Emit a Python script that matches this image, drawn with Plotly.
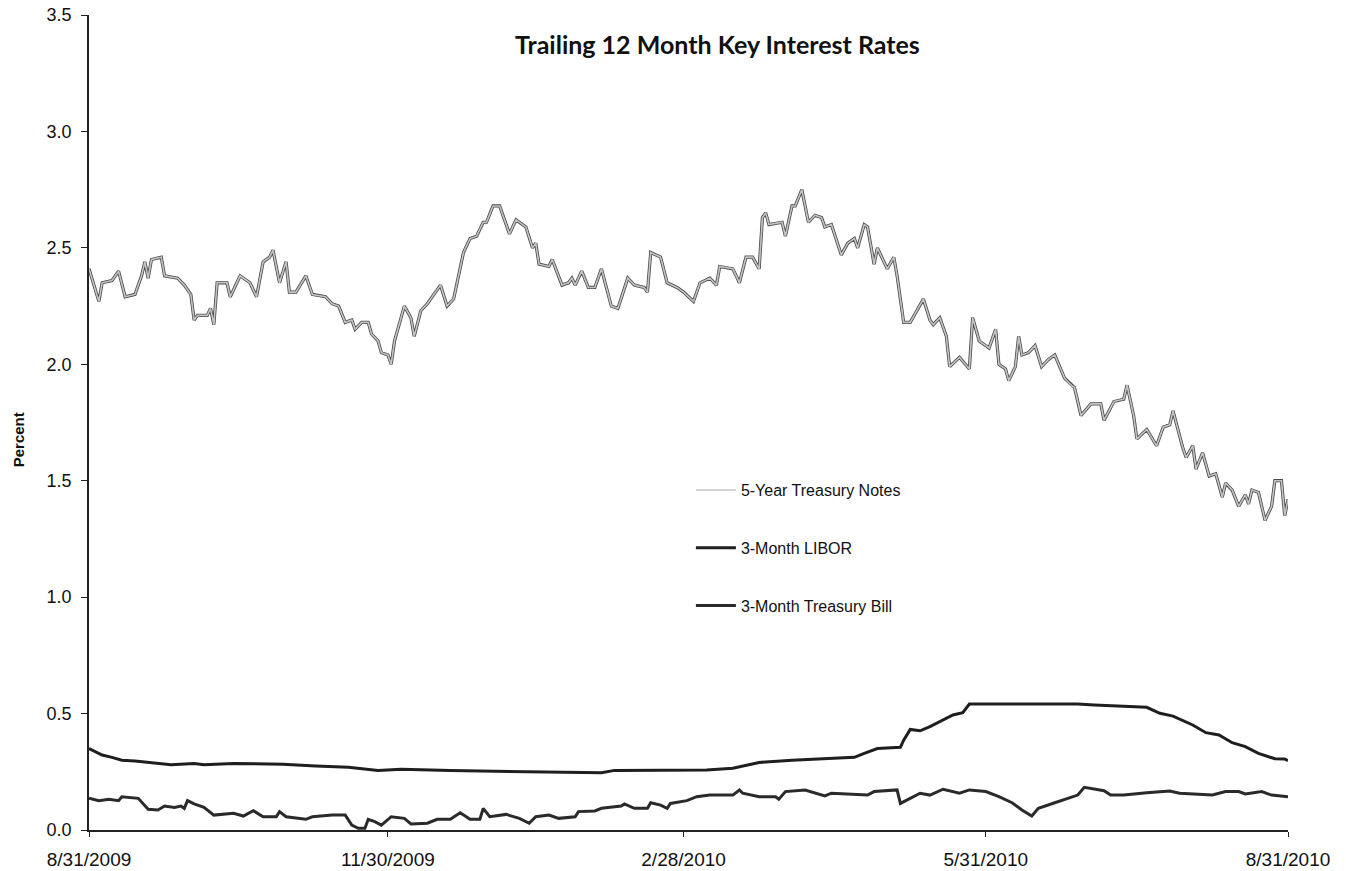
import plotly.graph_objects as go

# ---------------- data ----------------
t5_dates = [
    "2009-08-31", "2009-09-03", "2009-09-04", "2009-09-07", "2009-09-09", "2009-09-11", "2009-09-14",
    "2009-09-16", "2009-09-17", "2009-09-18", "2009-09-19", "2009-09-22", "2009-09-23", "2009-09-27",
    "2009-09-29", "2009-10-01", "2009-10-02", "2009-10-03", "2009-10-06", "2009-10-07", "2009-10-08",
    "2009-10-09", "2009-10-12", "2009-10-13", "2009-10-16", "2009-10-19", "2009-10-21", "2009-10-23",
    "2009-10-25", "2009-10-26", "2009-10-28", "2009-10-30", "2009-10-31", "2009-11-02", "2009-11-05",
    "2009-11-07", "2009-11-11", "2009-11-13", "2009-11-15", "2009-11-17", "2009-11-19", "2009-11-20",
    "2009-11-22", "2009-11-24", "2009-11-25", "2009-11-27", "2009-11-28", "2009-11-30", "2009-12-01",
    "2009-12-02", "2009-12-05", "2009-12-07", "2009-12-08", "2009-12-10", "2009-12-12", "2009-12-16",
    "2009-12-18", "2009-12-20", "2009-12-23", "2009-12-25", "2009-12-27", "2009-12-29", "2009-12-30",
    "2010-01-01", "2010-01-03", "2010-01-06", "2010-01-08", "2010-01-11", "2010-01-13", "2010-01-14",
    "2010-01-15", "2010-01-18", "2010-01-19", "2010-01-22", "2010-01-24", "2010-01-25", "2010-01-26",
    "2010-01-28", "2010-01-30", "2010-02-01", "2010-02-03", "2010-02-06", "2010-02-08", "2010-02-11",
    "2010-02-13", "2010-02-16", "2010-02-17", "2010-02-18", "2010-02-21", "2010-02-23", "2010-02-26",
    "2010-02-28", "2010-03-03", "2010-03-05", "2010-03-08", "2010-03-10", "2010-03-11", "2010-03-15",
    "2010-03-17", "2010-03-19", "2010-03-21", "2010-03-23", "2010-03-24", "2010-03-25", "2010-03-26",
    "2010-03-30", "2010-03-31", "2010-04-02", "2010-04-03", "2010-04-05", "2010-04-07", "2010-04-09",
    "2010-04-11", "2010-04-12", "2010-04-14", "2010-04-17", "2010-04-19", "2010-04-21", "2010-04-22",
    "2010-04-24", "2010-04-25", "2010-04-27", "2010-04-28", "2010-05-01", "2010-05-03", "2010-05-04",
    "2010-05-06", "2010-05-08", "2010-05-10", "2010-05-12", "2010-05-14", "2010-05-15", "2010-05-17",
    "2010-05-19", "2010-05-20", "2010-05-23", "2010-05-26", "2010-05-27", "2010-05-29", "2010-06-01",
    "2010-06-03", "2010-06-04", "2010-06-06", "2010-06-07", "2010-06-09", "2010-06-10", "2010-06-11",
    "2010-06-13", "2010-06-15", "2010-06-17", "2010-06-19", "2010-06-21", "2010-06-24", "2010-06-26",
    "2010-06-27", "2010-06-29", "2010-07-02", "2010-07-05", "2010-07-06", "2010-07-09", "2010-07-12",
    "2010-07-13", "2010-07-15", "2010-07-16", "2010-07-19", "2010-07-22", "2010-07-24", "2010-07-26",
    "2010-07-27", "2010-07-30", "2010-07-31", "2010-08-02", "2010-08-03", "2010-08-05", "2010-08-07",
    "2010-08-09", "2010-08-11", "2010-08-12", "2010-08-14", "2010-08-16", "2010-08-18", "2010-08-19",
    "2010-08-20", "2010-08-22", "2010-08-24", "2010-08-26", "2010-08-27", "2010-08-29", "2010-08-30",
    "2010-08-31",
]
t5_values = [
    2.41, 2.27, 2.35, 2.36, 2.40, 2.29, 2.30,
    2.38, 2.44, 2.37, 2.45, 2.46, 2.38, 2.37,
    2.34, 2.30, 2.19, 2.21, 2.21, 2.24, 2.17,
    2.35, 2.35, 2.29, 2.38, 2.35, 2.29, 2.44,
    2.46, 2.49, 2.35, 2.44, 2.31, 2.31, 2.38,
    2.30, 2.29, 2.26, 2.25, 2.18, 2.19, 2.15,
    2.18, 2.18, 2.13, 2.10, 2.05, 2.04, 2.00,
    2.10, 2.25, 2.20, 2.12, 2.23, 2.26, 2.34,
    2.25, 2.28, 2.48, 2.54, 2.55, 2.61, 2.61,
    2.68, 2.68, 2.56, 2.62, 2.59, 2.50, 2.52,
    2.43, 2.42, 2.45, 2.34, 2.35, 2.37, 2.34,
    2.40, 2.33, 2.33, 2.41, 2.25, 2.24, 2.37,
    2.34, 2.33, 2.31, 2.48, 2.46, 2.35, 2.33,
    2.31, 2.27, 2.35, 2.37, 2.34, 2.42, 2.41,
    2.35, 2.46, 2.46, 2.41, 2.63, 2.65, 2.60,
    2.61, 2.55, 2.68, 2.68, 2.75, 2.61, 2.64,
    2.63, 2.59, 2.60, 2.47, 2.52, 2.54, 2.50,
    2.60, 2.59, 2.43, 2.50, 2.41, 2.46, 2.38,
    2.18, 2.18, 2.23, 2.28, 2.19, 2.17, 2.20,
    2.12, 1.99, 2.03, 1.98, 2.20, 2.10, 2.07,
    2.15, 2.00, 1.98, 1.93, 1.99, 2.12, 2.04,
    2.05, 2.08, 1.99, 2.02, 2.04, 1.94, 1.91,
    1.90, 1.78, 1.83, 1.83, 1.76, 1.84, 1.85,
    1.91, 1.78, 1.68, 1.72, 1.65, 1.73, 1.74,
    1.80, 1.64, 1.60, 1.65, 1.55, 1.62, 1.52,
    1.53, 1.43, 1.49, 1.46, 1.39, 1.44, 1.40,
    1.46, 1.45, 1.33, 1.39, 1.50, 1.50, 1.35,
    1.42,
]

libor_dates = [
    "2009-08-31", "2009-09-04", "2009-09-07", "2009-09-10", "2009-09-14", "2009-09-20", "2009-09-25",
    "2009-10-02", "2009-10-05", "2009-10-14", "2009-10-29", "2009-11-08", "2009-11-18", "2009-11-27",
    "2009-12-04", "2009-12-19", "2010-01-08", "2010-02-03", "2010-02-07", "2010-03-07", "2010-03-15",
    "2010-03-18", "2010-03-23", "2010-04-02", "2010-04-12", "2010-04-21", "2010-04-24", "2010-04-28",
    "2010-05-05", "2010-05-06", "2010-05-08", "2010-05-11", "2010-05-14", "2010-05-17", "2010-05-21",
    "2010-05-24", "2010-05-26", "2010-06-09", "2010-06-28", "2010-07-03", "2010-07-12", "2010-07-19",
    "2010-07-23", "2010-07-27", "2010-08-02", "2010-08-06", "2010-08-10", "2010-08-14", "2010-08-18",
    "2010-08-22", "2010-08-27", "2010-08-30", "2010-08-31",
]
libor_values = [
    0.350, 0.322, 0.312, 0.300, 0.296, 0.286, 0.280,
    0.286, 0.280, 0.286, 0.282, 0.275, 0.269, 0.256,
    0.261, 0.255, 0.250, 0.246, 0.256, 0.258, 0.265,
    0.275, 0.290, 0.300, 0.308, 0.312, 0.329, 0.350,
    0.355, 0.386, 0.432, 0.426, 0.444, 0.465, 0.494,
    0.504, 0.541, 0.541, 0.541, 0.537, 0.532, 0.527,
    0.501, 0.489, 0.451, 0.418, 0.408, 0.375, 0.358,
    0.329, 0.306, 0.305, 0.298,
]

tbill_dates = [
    "2009-08-31", "2009-09-03", "2009-09-06", "2009-09-09", "2009-09-10", "2009-09-15", "2009-09-18",
    "2009-09-21", "2009-09-23", "2009-09-26", "2009-09-28", "2009-09-29", "2009-09-30", "2009-10-02",
    "2009-10-05", "2009-10-08", "2009-10-14", "2009-10-17", "2009-10-20", "2009-10-23", "2009-10-27",
    "2009-10-28", "2009-10-30", "2009-11-05", "2009-11-07", "2009-11-13", "2009-11-17", "2009-11-19",
    "2009-11-21", "2009-11-23", "2009-11-24", "2009-11-26", "2009-11-28", "2009-12-01", "2009-12-05",
    "2009-12-07", "2009-12-12", "2009-12-15", "2009-12-19", "2009-12-22", "2009-12-25", "2009-12-28",
    "2009-12-29", "2009-12-31", "2010-01-05", "2010-01-09", "2010-01-12", "2010-01-14", "2010-01-18",
    "2010-01-21", "2010-01-26", "2010-01-27", "2010-02-01", "2010-02-03", "2010-02-09", "2010-02-10",
    "2010-02-13", "2010-02-17", "2010-02-18", "2010-02-21", "2010-02-23", "2010-02-24", "2010-03-01",
    "2010-03-04", "2010-03-08", "2010-03-15", "2010-03-17", "2010-03-18", "2010-03-23", "2010-03-28",
    "2010-03-29", "2010-03-31", "2010-04-06", "2010-04-09", "2010-04-12", "2010-04-14", "2010-04-25",
    "2010-04-27", "2010-05-04", "2010-05-05", "2010-05-08", "2010-05-11", "2010-05-14", "2010-05-18",
    "2010-05-23", "2010-05-26", "2010-05-31", "2010-06-04", "2010-06-08", "2010-06-11", "2010-06-14",
    "2010-06-16", "2010-06-21", "2010-06-25", "2010-06-28", "2010-06-30", "2010-07-06", "2010-07-08",
    "2010-07-12", "2010-07-19", "2010-07-26", "2010-07-29", "2010-08-08", "2010-08-12", "2010-08-16",
    "2010-08-18", "2010-08-23", "2010-08-26", "2010-08-31",
]
tbill_values = [
    0.136, 0.126, 0.132, 0.126, 0.143, 0.136, 0.089,
    0.086, 0.103, 0.097, 0.103, 0.093, 0.126, 0.112,
    0.097, 0.064, 0.072, 0.060, 0.083, 0.057, 0.057,
    0.079, 0.057, 0.046, 0.057, 0.064, 0.064, 0.021,
    0.007, 0.007, 0.046, 0.036, 0.021, 0.057, 0.050,
    0.026, 0.029, 0.046, 0.046, 0.074, 0.046, 0.046,
    0.093, 0.057, 0.067, 0.050, 0.029, 0.057, 0.064,
    0.050, 0.057, 0.079, 0.082, 0.093, 0.103, 0.112,
    0.093, 0.093, 0.117, 0.107, 0.093, 0.114, 0.126,
    0.143, 0.150, 0.150, 0.172, 0.158, 0.143, 0.143,
    0.132, 0.165, 0.172, 0.158, 0.146, 0.158, 0.150,
    0.165, 0.172, 0.114, 0.136, 0.158, 0.150, 0.175,
    0.158, 0.172, 0.165, 0.143, 0.117, 0.086, 0.060,
    0.093, 0.117, 0.136, 0.150, 0.183, 0.169, 0.150,
    0.150, 0.160, 0.167, 0.158, 0.150, 0.165, 0.165,
    0.155, 0.165, 0.150, 0.143,
]

x_tick_vals = ["2009-08-31", "2009-11-30", "2010-02-28", "2010-05-31", "2010-08-31"]
x_tick_text = ["8/31/2009", "11/30/2009", "2/28/2010", "5/31/2010", "8/31/2010"]
y_tick_vals = [0.0, 0.5, 1.0, 1.5, 2.0, 2.5, 3.0, 3.5]

title_text = "Trailing 12 Month Key Interest Rates"
y_title = "Percent"

# ---------------- figure ----------------
fig = go.Figure()

# dark edge under the grey 5-year line (scanned look)
fig.add_trace(go.Scatter(
    x=t5_dates, y=t5_values, mode="lines", name="5-Year Treasury Notes",
    line=dict(color="#4a4a4a", width=3.2), showlegend=False, hoverinfo="skip",
    legendgroup="g1",
))
fig.add_trace(go.Scatter(
    x=t5_dates, y=t5_values, mode="lines", name="5-Year Treasury Notes",
    line=dict(color="#c4c4c4", width=1.6), legendgroup="g1",
))
fig.add_trace(go.Scatter(
    x=libor_dates, y=libor_values, mode="lines", name="3-Month LIBOR",
    line=dict(color="#1e1e1e", width=3), legendgroup="g2",
))
fig.add_trace(go.Scatter(
    x=tbill_dates, y=tbill_values, mode="lines", name="3-Month Treasury Bill",
    line=dict(color="#2a2a2a", width=3), legendgroup="g3",
))

fig.update_layout(
    width=1346, height=871,
    margin=dict(l=89, r=58, t=15, b=41),
    paper_bgcolor="white", plot_bgcolor="white",
    font=dict(family="Liberation Sans, Arial, sans-serif", color="#111111", size=16),
    showlegend=True,
    legend=dict(
        x=0.502, y=0.438, xanchor="left", yanchor="top",
        bgcolor="rgba(0,0,0,0)", font=dict(size=16, color="#111111"),
        traceorder="grouped", tracegroupgap=34, itemwidth=40,
    ),
    annotations=[
        dict(text="<b>" + title_text + "</b>", x=0.5238, y=0.964, xref="paper", yref="paper",
             xanchor="center", yanchor="middle", showarrow=False,
             font=dict(family="Lato, Carlito, sans-serif", size=25, color="#111111")),
        dict(text="<b>" + y_title + "</b>", x=-0.059, y=0.4785, xref="paper", yref="paper",
             xanchor="center", yanchor="middle", showarrow=False, textangle=-90,
             font=dict(family="Liberation Sans, Arial, sans-serif", size=15, color="#111111")),
    ],
)

fig.update_xaxes(
    type="date", range=["2009-08-31", "2010-08-31"],
    tickmode="array", tickvals=x_tick_vals, ticktext=x_tick_text,
    showgrid=False, zeroline=False,
    showline=True, linecolor="#222222", linewidth=1.5,
    ticks="outside", ticklen=5, tickcolor="#222222", tickwidth=1,
    ticklabelstandoff=6, automargin=False, ticklabeloverflow="allow",
    tickfont=dict(size=19, color="#111111"),
)
fig.update_yaxes(
    range=[0, 3.5], tickmode="array", tickvals=y_tick_vals, tickformat=".1f",
    showgrid=False, zeroline=False,
    showline=True, linecolor="#222222", linewidth=1.5,
    ticks="outside", ticklen=6, tickcolor="#222222", tickwidth=1,
    ticklabelstandoff=6, automargin=False, ticklabeloverflow="allow",
    tickfont=dict(size=18, color="#111111"),
)

fig.write_html(
    "out.html",
    config={"displayModeBar": False},
    post_script="document.body.style.margin='0';",
)
